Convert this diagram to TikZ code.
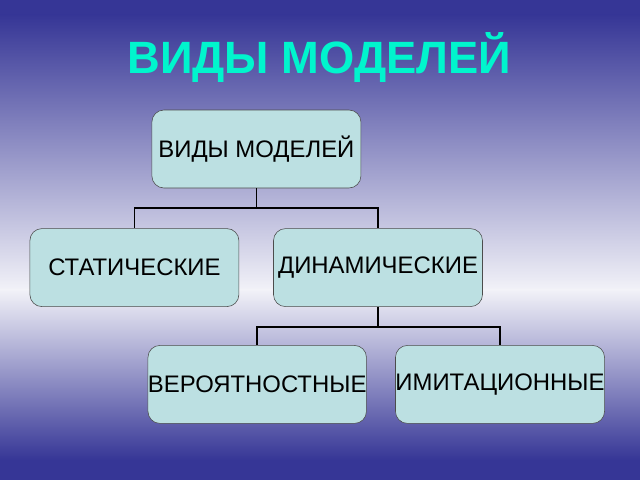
\documentclass[tikz,border=0pt]{standalone}
\usepackage{fontspec}
\setmainfont{Liberation Sans}
\definecolor{bgblue}{RGB}{54,54,150}
\definecolor{bglight}{RGB}{242,242,248}
\definecolor{titlecol}{RGB}{0,245,205}
\definecolor{boxfill}{RGB}{188,224,226}
\tikzset{
  modelbox/.style={draw=black!70, fill=boxfill, rounded corners=0.3cm,
    minimum width=5.225cm, minimum height=1.95cm, inner sep=0pt,
    font=\fontsize{17}{20}\selectfont},
  tree/.style={line width=1.2pt}
}
\begin{document}
\begin{tikzpicture}
\useasboundingbox (0,0) rectangle (16,12);
% background
\fill[bgblue] (0,11.62) rectangle (16,12);
\shade[top color=bgblue, bottom color=bglight] (0,4.75) rectangle (16,11.63);
\shade[top color=bglight, bottom color=bgblue] (0,0.5) rectangle (16,4.76);
\fill[bgblue] (0,0) rectangle (16,0.51);

\node (title) at (7.98,10.55) [text=titlecol, font=\fontsize{32.2}{38}\selectfont\bfseries] {ВИДЫ МОДЕЛЕЙ};

\node (vidy)    at (6.41,8.275) [modelbox] {ВИДЫ МОДЕЛЕЙ};
\node (stat)    at (3.36,5.31)  [modelbox] {СТАТИЧЕСКИЕ};
\node (dinam)   at (9.45,5.31)  [modelbox] {ДИНАМИЧЕСКИЕ};
\node (veroyat) at (6.43,2.39)  [modelbox] {ВЕРОЯТНОСТНЫЕ};
\node (imit)    at (12.5,2.39)  [modelbox] {ИМИТАЦИОННЫЕ};

% connectors
\draw[tree] (vidy.south) -- ++(0,-0.5) coordinate (j1);
\draw[tree] (j1) -| (stat.north);
\draw[tree] (j1) -| (dinam.north);
\draw[tree] (dinam.south) -- ++(0,-0.5) coordinate (j2);
\draw[tree] (j2) -| (veroyat.north);
\draw[tree] (j2) -| (imit.north);

\end{tikzpicture}
\end{document}
